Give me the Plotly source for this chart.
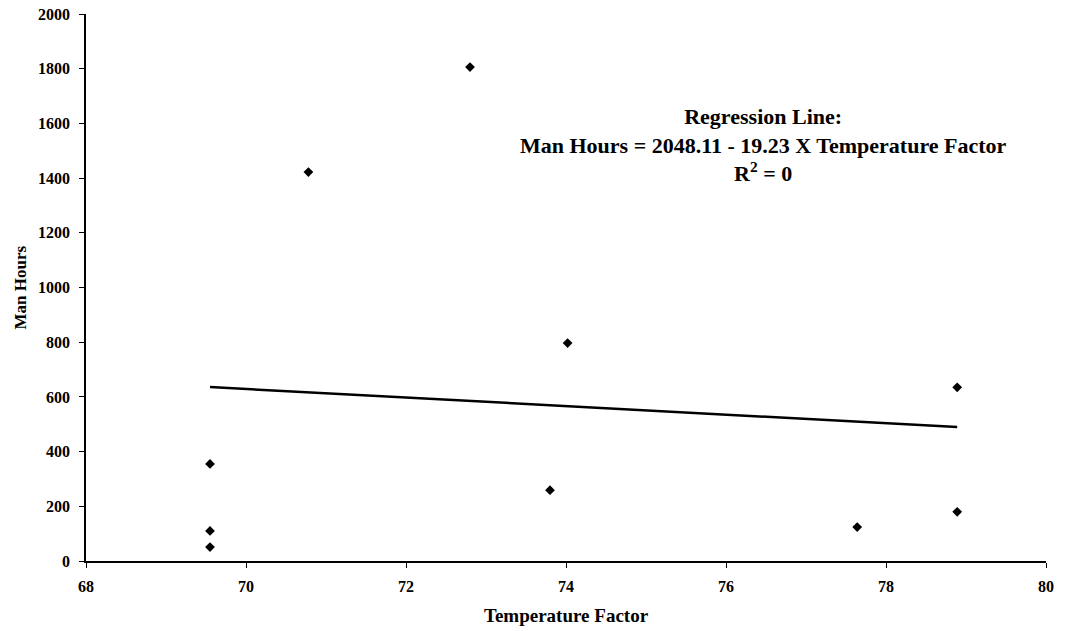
import plotly.graph_objects as go

# Observed data points
temperature_factor = [69.55, 69.55, 69.55, 70.78, 72.80, 74.02, 73.80, 77.64, 78.89, 78.89]
man_hours = [355, 110, 51, 1422, 1806, 797, 259, 124, 635, 180]

# Regression line end points (as drawn)
line_x = [69.55, 78.89]
line_y = [636, 490]

x_ticks = [68, 70, 72, 74, 76, 78, 80]
y_ticks = [0, 200, 400, 600, 800, 1000, 1200, 1400, 1600, 1800, 2000]

x_title = "Temperature Factor"
y_title = "Man Hours"
annotation_text = ("Regression Line:<br>Man Hours = 2048.11 - 19.23 X Temperature Factor"
                   "<br>R<sup>2</sup> = 0")

font_family = "Liberation Serif, Times New Roman, serif"

ML, MR, MT, MB = 86, 26, 14, 70
W, H = 1072, 631
plot_w = W - ML - MR
plot_h = H - MT - MB

fig = go.Figure()
fig.add_trace(go.Scatter(
    x=line_x, y=line_y, mode="lines",
    line=dict(color="black", width=2.5),
    showlegend=False, hoverinfo="skip",
))
fig.add_trace(go.Scatter(
    x=temperature_factor, y=man_hours, mode="markers",
    marker=dict(symbol="diamond", size=7.5, color="black"),
    showlegend=False,
))

fig.update_layout(
    width=W, height=H,
    margin=dict(l=ML, r=MR, t=MT, b=MB, autoexpand=False),
    paper_bgcolor="white", plot_bgcolor="white",
    font=dict(family=font_family, color="black"),
    xaxis=dict(
        range=[68, 80], tickvals=x_ticks, ticktext=[str(v) for v in x_ticks],
        showgrid=False, zeroline=False, automargin=False,
        showline=True, linecolor="black", linewidth=1.5,
        ticks="outside", ticklen=5, tickcolor="black", tickwidth=1,
        tickfont=dict(family=font_family, size=16, color="black", weight="bold"),
        ticklabelstandoff=5,
    ),
    yaxis=dict(
        range=[0, 2000], tickvals=y_ticks, ticktext=[str(v) for v in y_ticks],
        showgrid=False, zeroline=False, automargin=False,
        showline=True, linecolor="black", linewidth=1.5,
        ticks="outside", ticklen=5, tickcolor="black", tickwidth=1,
        tickfont=dict(family=font_family, size=16, color="black", weight="bold"),
        ticklabelstandoff=6,
    ),
    annotations=[
        dict(
            x=(763 - ML) / plot_w, y=(H - MB - 145) / plot_h,
            xref="paper", yref="paper", text="<b>" + annotation_text + "</b>",
            showarrow=False, font=dict(family=font_family, size=22, color="black"),
            align="center", xanchor="center", yanchor="middle",
        ),
        dict(
            x=0.5, y=-(615 - (H - MB)) / plot_h,
            xref="paper", yref="paper", text="<b>" + x_title + "</b>",
            showarrow=False, font=dict(family=font_family, size=19, color="black"),
            xanchor="center", yanchor="middle",
        ),
        dict(
            x=-(ML - 20) / plot_w, y=0.5,
            xref="paper", yref="paper", text="<b>" + y_title + "</b>",
            showarrow=False, textangle=-90,
            font=dict(family=font_family, size=17, color="black"),
            xanchor="center", yanchor="middle",
        ),
    ],
)

fig.write_html("out.html")
